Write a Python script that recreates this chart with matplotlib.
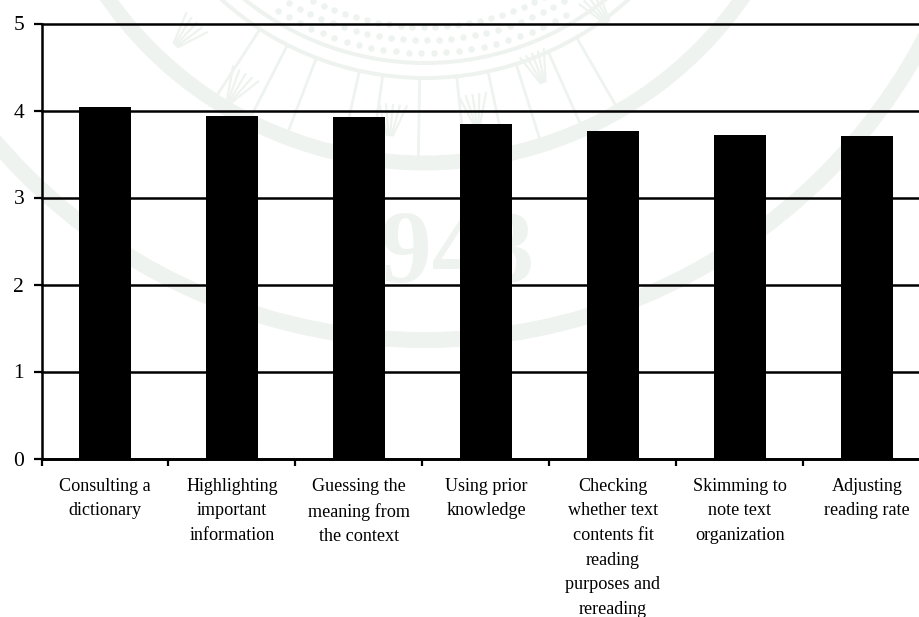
import numpy as np
import matplotlib
matplotlib.use("Agg")
import matplotlib.pyplot as plt
from matplotlib.patches import Circle

WIDTH, HEIGHT = 920, 617

strategies = [
    "Consulting a\ndictionary",
    "Highlighting\nimportant\ninformation",
    "Guessing the\nmeaning from\nthe context",
    "Using prior\nknowledge",
    "Checking\nwhether text\ncontents fit\nreading\npurposes and\nrereading",
    "Skimming to\nnote text\norganization",
    "Adjusting\nreading rate",
]
mean_scores = [4.04, 3.94, 3.92, 3.85, 3.76, 3.72, 3.71]
score_ticks = [0, 1, 2, 3, 4, 5]

SEAL = "#eef3ef"
SEAL_X, SEAL_Y = 425, -225
spoke_angles = [-33, -27, -21, -12.5, -8, -1, 6, 12, 17.5, 24, 30]
fan_bases = [(230, 100), (176, 45), (390, 135), (477, 125), (543, 82), (607, 22)]


def draw_seal(fig):
    """ Pale university seal printed behind the chart, in pixel coordinates """
    bg = fig.add_axes([0, 0, 1, 1], zorder=-1)
    bg.set_xlim(0, WIDTH)
    bg.set_ylim(HEIGHT, 0)
    bg.axis("off")

    # Concentric rings
    for radius, thick in [(565, 16), (388, 15), (303, 4), (288, 4)]:
        bg.add_patch(Circle((SEAL_X, SEAL_Y), radius, fill=False, ec=SEAL, lw=thick * 0.72))

    # Petal outlines between the rings
    for angle in spoke_angles:
        t = np.radians(angle)
        r = np.array([303, 388])
        bg.plot(SEAL_X + r * np.sin(t), SEAL_Y + r * np.cos(t), color=SEAL, lw=2.0)

    # Small fans of strokes inside the petals
    for x, y in fan_bases:
        t0 = np.arctan2(x - SEAL_X, y - SEAL_Y)
        r0 = np.hypot(x - SEAL_X, y - SEAL_Y)
        for dt in np.radians([-2.4, -1.2, 0, 1.2, 2.4]):
            r = np.array([r0 - 30, r0])
            bg.plot(SEAL_X + r * np.sin(t0 + dt * np.array([1, 0.2])),
                    SEAL_Y + r * np.cos(t0 + dt * np.array([1, 0.2])), color=SEAL, lw=1.6)

    # Rows of dots above the lowest inner ring
    for radius, offset in [(278, 0), (265, 1.2), (252, 0.5)]:
        t = np.radians(np.arange(-32, 32, 2.6) + offset)
        bg.scatter(SEAL_X + radius * np.sin(t), SEAL_Y + radius * np.cos(t),
                   s=22, color=SEAL, linewidths=0)

    bg.text(432, 257, "1943", ha="center", va="center", color=SEAL, fontsize=74,
            family="Liberation Serif", weight="bold")


def graph():
    fig = plt.figure(figsize=(WIDTH / 100, HEIGHT / 100), dpi=100)
    draw_seal(fig)

    # The last category runs past the right edge of the figure
    ax = fig.add_axes([41.5 / WIDTH, 1 - 458.5 / HEIGHT, 889 / WIDTH, 435 / HEIGHT])
    ax.patch.set_alpha(0)

    positions = np.arange(len(strategies)) + 0.5
    ax.bar(positions, mean_scores, width=0.417, color="black", zorder=3)

    ax.set_xlim(0, len(strategies))
    ax.set_ylim(0, 5)
    ax.set_yticks(score_ticks)
    ax.set_xticks(np.arange(len(strategies) + 1))
    ax.set_xticklabels([])
    ax.set_xticks(positions, minor=True)
    ax.set_xticklabels(strategies, minor=True, linespacing=1.58, va="top")

    ax.yaxis.grid(True, color="black", lw=1.8, zorder=1, clip_on=False)
    ax.set_axisbelow(True)
    ax.tick_params(axis="y", length=5.5, width=1.6, labelsize=15.5, pad=7)
    ax.tick_params(axis="x", which="major", length=5, width=1.6)
    ax.tick_params(axis="x", which="minor", length=0, labelsize=13.1, pad=14)

    for side in ["top", "right"]:
        ax.spines[side].set_visible(False)
    ax.spines["left"].set_linewidth(1.8)
    ax.spines["bottom"].set_linewidth(2.0)

    fig.savefig("out.png", dpi=100)


plt.rcParams["font.family"] = ["Liberation Serif", "DejaVu Serif"]
graph()
